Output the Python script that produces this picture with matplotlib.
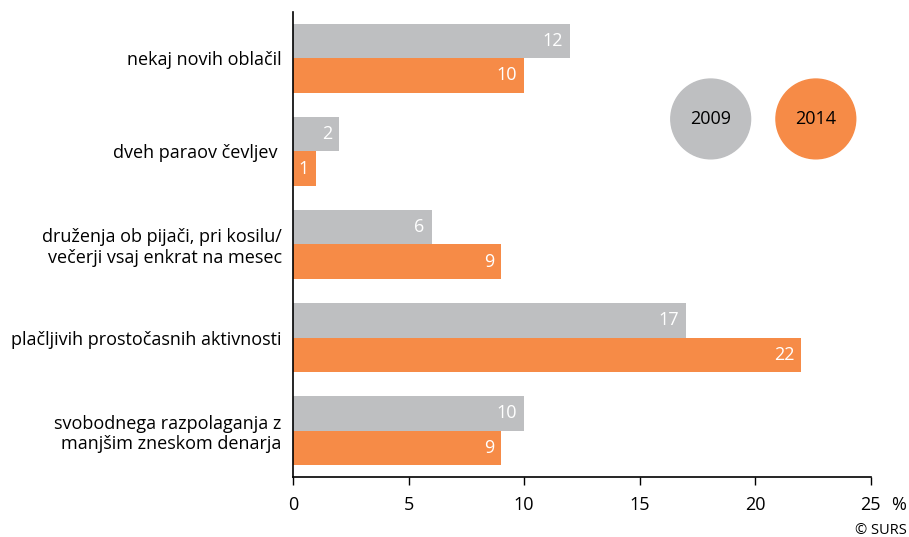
import matplotlib.pyplot as plt
import numpy as np

plt.rcParams['font.family'] = ['Open Sans', 'DejaVu Sans']

# Data #########################################################################
categories = ['nekaj novih oblačil',
              'dveh paraov čevljev ',
              'druženja ob pijači, pri kosilu/\nvečerji vsaj enkrat na mesec',
              'plačljivih prostočasnih aktivnosti',
              'svobodnega razpolaganja z\nmanjšim zneskom denarja']
values_2009 = [12, 2, 6, 17, 10]
values_2014 = [10, 1, 9, 22, 9]
years = ['2009', '2014']

GREY = '#bebfc1'
ORANGE = '#f68b47'

# Plot #########################################################################
fig = plt.figure(figsize=(9.09, 5.37), dpi=100)
ax = fig.add_axes([0.3223, 0.1117, 0.6356, 0.866])

y = np.arange(len(categories))
h = 0.366
ax.barh(y - h / 2, values_2009, height=h, color=GREY)
ax.barh(y + h / 2, values_2014, height=h, color=ORANGE)

for yi, v in zip(y, values_2009):
    ax.annotate(str(v), (v, yi - h / 2), xytext=(-5, 0), textcoords='offset points',
                ha='right', va='center', color='white', fontsize=13)
for yi, v in zip(y, values_2014):
    ax.annotate(str(v), (v, yi + h / 2), xytext=(-5, 0), textcoords='offset points',
                ha='right', va='center', color='white', fontsize=13)

ax.set_ylim(len(categories) - 0.5, -0.5)
ax.set_xlim(0, 25)
ax.set_xticks([0, 5, 10, 15, 20, 25])
ax.set_yticks(y)
ax.set_yticklabels(categories, fontsize=13, linespacing=1.2)
ax.tick_params(axis='y', length=0, pad=8)
ax.tick_params(axis='x', length=6, width=1, labelsize=13, pad=8)
for s in ['top', 'right']:
    ax.spines[s].set_visible(False)
ax.spines['left'].set_linewidth(1.2)
ax.spines['bottom'].set_linewidth(1.2)

# Circle legend
ax.scatter([0.723, 0.905], [0.770, 0.770], s=3300, c=[GREY, ORANGE],
           transform=ax.transAxes, clip_on=False, zorder=3)
for xc, yr in zip([0.723, 0.905], years):
    ax.text(xc, 0.770, yr, transform=ax.transAxes, ha='center', va='center',
            fontsize=13, zorder=4)

# "%" sits on the same line as the x tick labels (tick length + pad = 14 pt)
ax.annotate('%', (1, 0), xycoords='axes fraction', xytext=(20, -14),
            textcoords='offset points', ha='center', va='top', fontsize=13)
fig.text(0.997, 0.013, '© SURS', ha='right', va='center', fontsize=10.5)

plt.savefig('out.png', dpi=100)
